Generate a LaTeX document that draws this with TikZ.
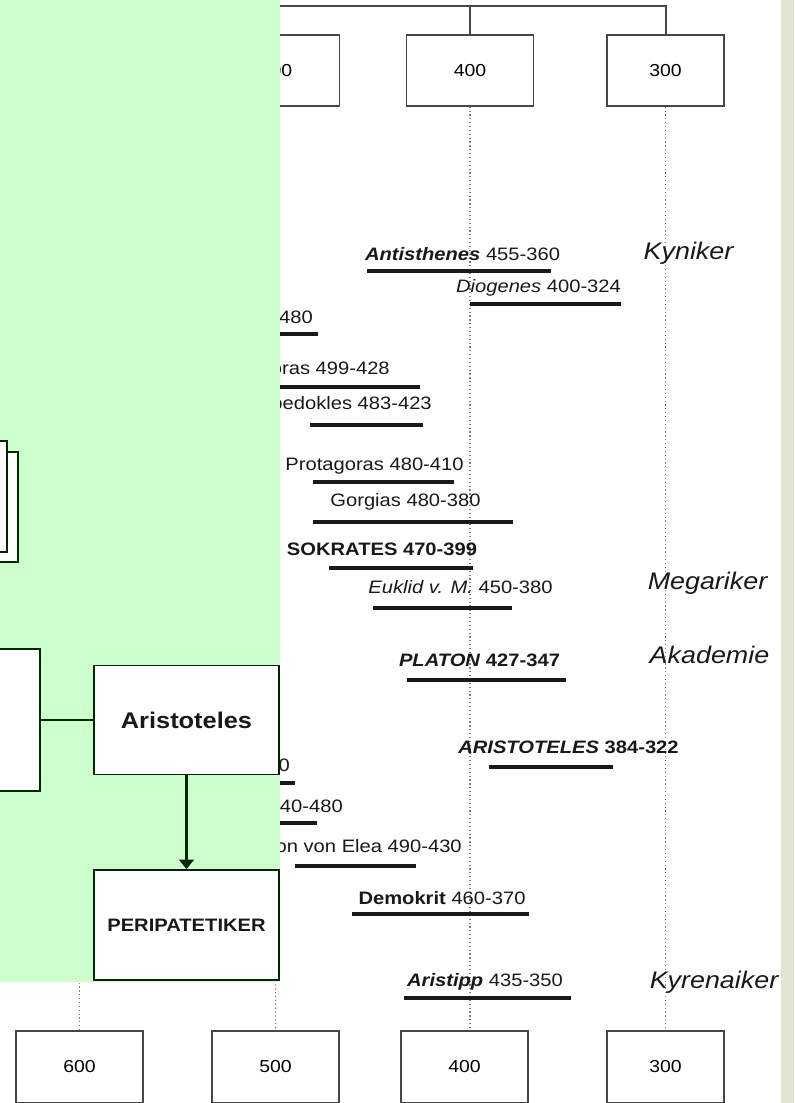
\documentclass[tikz,border=0pt]{standalone}
\usepackage{fontspec}
\setmainfont{Liberation Sans}[FakeStretch=1.12]
\usetikzlibrary{arrows.meta}
\definecolor{panelgreen}{RGB}{204,255,204}
\definecolor{strip}{RGB}{226,228,210}
\definecolor{ink}{RGB}{25,25,25}

\begin{document}
\begin{tikzpicture}[x=0.75pt, y=-0.75pt,
  yr/.style={draw=ink!80, line width=1.2pt, fill=white, minimum width=95pt, minimum height=53pt, inner sep=0pt, font=\fontsize{13}{15}\selectfont},
  lbl/.style={inner sep=0pt, text=ink, font=\fontsize{13.5}{15}\selectfont},
  school/.style={inner sep=0pt, text=ink, font=\fontsize{18}{20}\selectfont\itshape},
  bar/.style={line width=2.9pt, ink},
  grid/.style={dotted, gray, line width=0.9pt},
  gbox/.style={draw=black!85!green, line width=1.4pt, fill=white, inner sep=0pt},
  link/.style={line width=1.6pt, black!85!green}
]
\useasboundingbox (0,0) rectangle (794,1103);
\fill[white] (0,0) rectangle (794,1103);
% century boxes
\node[yr] (t500) at (276,70.5) {500};
\node[yr] (t400) at (470,70.5) {400};
\node[yr, minimum width=88pt] (t300) at (665.5,70.5) {300};
\node[yr, minimum height=54pt] (b600) at (79.5,1067) {600};
\node[yr, minimum height=54pt] (b500) at (275.5,1067) {500};
\node[yr, minimum height=54pt] (b400) at (464.5,1067) {400};
\node[yr, minimum height=54pt, minimum width=88pt] (b300) at (665.5,1067) {300};
\draw[ink!80, line width=1.5pt] (t500.north) -- ++(0,-28) -| (t300.north);
\draw[ink!80, line width=1.5pt] (t400.north) -- ++(0,-28);
\coordinate (pb) at (0,982);
\draw[grid] (t500.south) -- (b500.north);
\draw[grid] (b600.north) -- (b600.north |- pb);
\draw[grid] (t400.south) -- (t400.south |- b400.north);
\draw[grid] (t300.south) -- (b300.north);
% life spans
\foreach \y/\a/\b in {271/367/551, 304/470/621, 334/270/318, 387/270/420, 425/310/423, 482/313/454, 522/313/513, 568/329/473, 608/373/512, 680/407/566, 767/489/613, 783/270/295, 823/270/317, 866/295/416, 914/352/529, 998/404/571}
  \draw[bar] (\a,\y) -- (\b,\y);
\node[lbl] (antisthenes) at (462.5,254) {\textbf{\textit{Antisthenes}} 455-360};
\node[lbl] (diogenes) at (538.5,288) {\textit{Diogenes} 400-324};
\node[lbl, anchor=east] (frag1) at (313,317) {480};
\node[lbl, anchor=east] (anaxagoras) at (390,370) {Anaxagoras 499-428};
\node[lbl, anchor=east] (empedokles) at (432,405) {Empedokles 483-423};
\node[lbl] (protagoras) at (374.5,466) {Protagoras 480-410};
\node[lbl] (gorgias) at (405.5,502) {Gorgias 480-380};
\node[lbl] (sokrates) at (382,549) {\textbf{SOKRATES 470-399}};
\node[lbl] (euklid) at (460.5,587) {\textit{Euklid v. M.} 450-380};
\node[lbl] (platon) at (479.5,660) {\textbf{\textit{PLATON} 427-347}};
\node[lbl] (aristoteles) at (568.5,747) {\textbf{\textit{ARISTOTELES} 384-322}};
\node[lbl, anchor=east] (frag2) at (290,765) {0};
\node[lbl, anchor=east] (frag3) at (343,806) {540-480};
\node[lbl, anchor=east] (zenon) at (462,846) {Zenon von Elea 490-430};
\node[lbl] (demokrit) at (442,898) {\textbf{Demokrit} 460-370};
\node[lbl] (aristipp) at (485,982) {\textbf{\textit{Aristipp}} 435-350};
% schools
\node[school] (kyniker) at (688.5,253) {Kyniker};
\node[school] (megariker) at (707.5,583) {Megariker};
\node[school] (akademie) at (709.5,655) {Akademie};
\node[school] (kyrenaiker) at (714,982) {Kyrenaiker};
% green overlay panel
\fill[panelgreen] (0,0) rectangle (280,982);
\draw[gbox] (-10,452) rectangle (18,562);
\draw[gbox] (-10,441) rectangle (7,552);
\node[gbox, minimum width=37.5pt, minimum height=106.5pt] (prev) at (15,720) {};
\node[gbox, minimum width=138.5pt, minimum height=81.75pt, font=\fontsize{17}{19}\selectfont\bfseries, text=ink] (aris) at (186.5,720) {Aristoteles};
\node[gbox, minimum width=138.5pt, minimum height=82.5pt, font=\fontsize{13.5}{15}\selectfont\bfseries, text=ink] (peri) at (186.5,925) {PERIPATETIKER};
\draw[link] (prev) -- (aris);
\draw[link, -{Triangle[length=7pt, width=11pt]}] (aris) -- (peri);
\fill[strip] (781,0) rectangle (794,1103);
\end{tikzpicture}
\end{document}
